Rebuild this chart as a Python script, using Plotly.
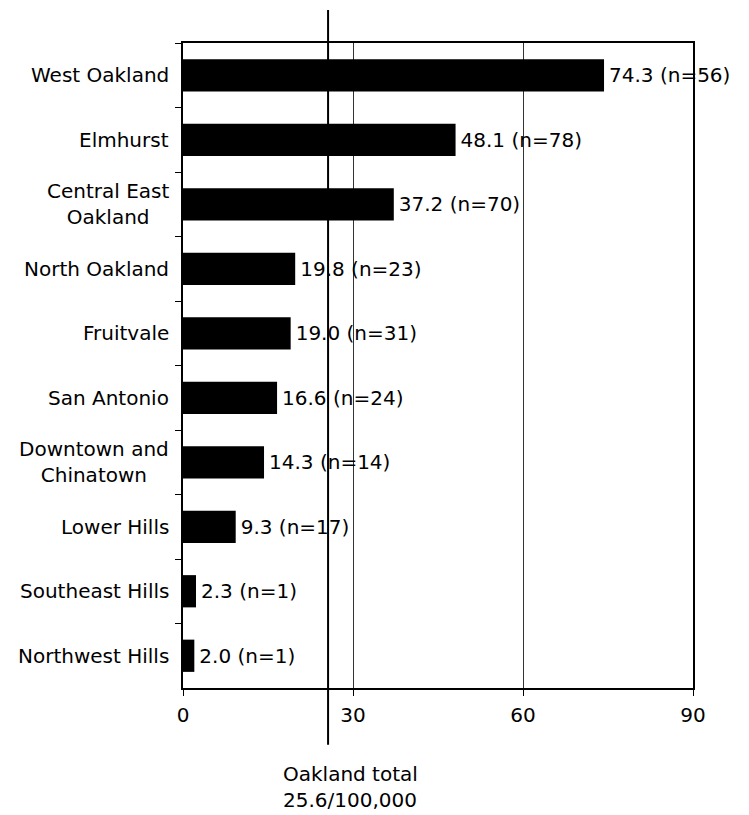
import plotly.graph_objects as go

neighborhoods = ["West Oakland", "Elmhurst", "Central East<br>Oakland", "North Oakland",
                 "Fruitvale", "San Antonio", "Downtown and<br>Chinatown", "Lower Hills",
                 "Southeast Hills", "Northwest Hills"]
rates = [74.3, 48.1, 37.2, 19.8, 19.0, 16.6, 14.3, 9.3, 2.3, 2.0]
counts = [56, 78, 70, 23, 31, 24, 14, 17, 1, 1]
oakland_total = 25.6
x_ticks = [0, 30, 60, 90]

labels = [f"\u200a{r:.1f} (n={n})" for r, n in zip(rates, counts)]
FONT = "DejaVu Sans"

fig = go.Figure()
fig.add_trace(go.Bar(
    y=neighborhoods, x=rates, orientation="h",
    marker=dict(color="black", line=dict(width=0)),
    text=labels, textposition="outside", cliponaxis=False,
    constraintext="none",
    textfont=dict(family=FONT, size=20, color="black"),
    width=0.5,
))

# category labels (centered multi-line, right-anchored at the axis)
for name in neighborhoods:
    fig.add_annotation(xref="paper", yref="y", x=0, y=name, xshift=-12,
                       xanchor="right", yanchor="middle", align="center",
                       showarrow=False, text=name,
                       font=dict(family=FONT, size=20, color="black"))

fig.add_shape(type="line", xref="x", yref="paper",
              x0=oakland_total, x1=oakland_total, y0=-0.088, y1=1.051,
              line=dict(color="black", width=2), layer="above")

fig.add_annotation(xref="paper", yref="paper", x=0.192, y=-0.112,
                   xanchor="left", yanchor="top", align="left", showarrow=False,
                   text="Oakland total<br>25.6/100,000",
                   font=dict(family=FONT, size=20, color="black"))

fig.update_layout(
    width=749, height=815,
    margin=dict(l=183, r=56, t=43, b=127),
    paper_bgcolor="white", plot_bgcolor="white",
    showlegend=False,
    font=dict(family=FONT, size=20, color="black"),
    xaxis=dict(range=[0, 90], tickvals=x_ticks, showgrid=True,
               gridcolor="#333333", gridwidth=1,
               showline=True, linecolor="black", linewidth=2, mirror=True,
               ticks="outside", ticklen=6, tickcolor="black",
               zeroline=False, layer="below traces", ticklabelstandoff=2,
               tickfont=dict(family=FONT, size=20, color="black")),
    yaxis=dict(autorange="reversed", showline=True, linecolor="black", linewidth=2,
               mirror=True, ticks="outside", ticklen=6, tickcolor="black",
               tickson="boundaries", showgrid=False, layer="below traces",
               showticklabels=False),
)

fig.write_html("out.html")
